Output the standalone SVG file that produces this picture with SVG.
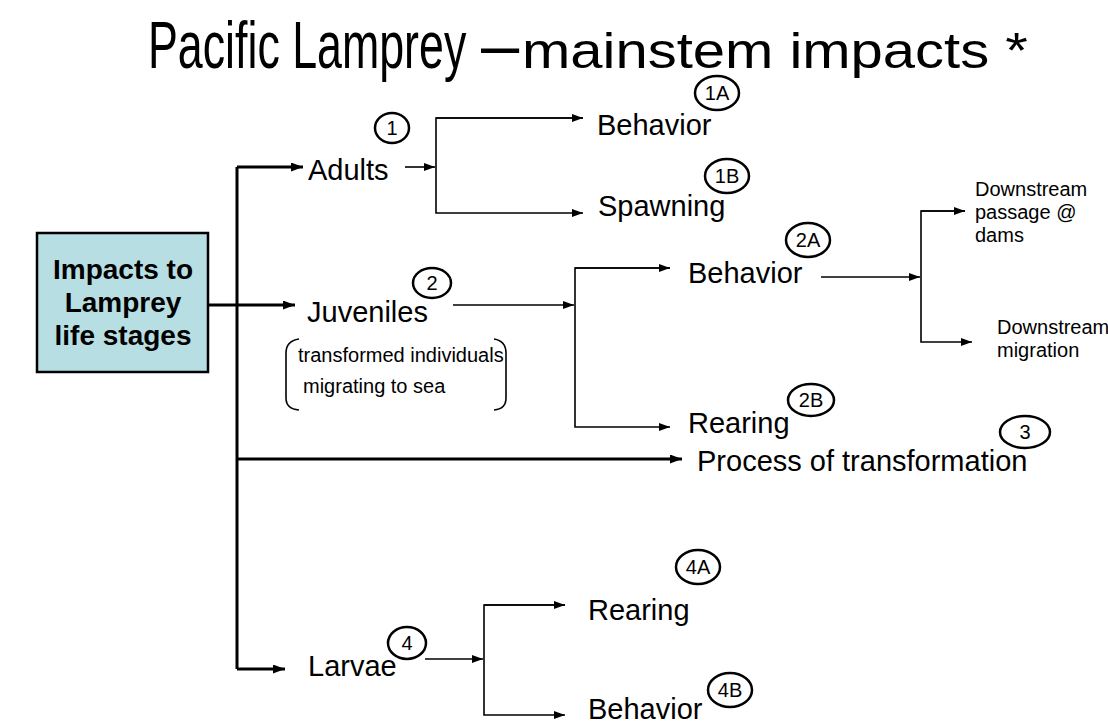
<svg xmlns="http://www.w3.org/2000/svg" width="1108" height="728" viewBox="0 0 1108 728">
<style>
text{font-family:"Liberation Sans",Arial,sans-serif;fill:#000}
.t{font-size:29px}
.s{font-size:20px}
.b{font-size:20px}
.c{font-size:20px;text-anchor:middle}
.thick{stroke:#000;stroke-width:3;fill:none}
.thin{stroke:#000;stroke-width:1.6;fill:none}
ellipse{fill:none;stroke:#000;stroke-width:2.5}
</style>
<defs>
<marker id="ah" markerUnits="userSpaceOnUse" markerWidth="11" markerHeight="8" refX="11" refY="4" orient="auto"><path d="M0,0 L11,4 L0,8 z" fill="#000"/></marker>
<marker id="ahb" markerUnits="userSpaceOnUse" markerWidth="12" markerHeight="9" refX="12" refY="4.5" orient="auto"><path d="M0,0 L12,4.5 L0,9 z" fill="#000"/></marker>
</defs>
<rect width="1108" height="728" fill="#fff"/>
<g id="title">
<text transform="translate(148,68) scale(0.678,1)" font-size="66">Pacific Lamprey</text>
<text transform="translate(481,68) scale(1.04,1)" font-size="66">–</text>
<text transform="translate(522,68) scale(1.16,1)" font-size="50">mainstem impacts *</text>
</g>

<g id="connectors">
<path class="thick" d="M208,305 H237"/>
<path class="thick" d="M237,167 V669"/>
<path class="thick" d="M237,167 H303" marker-end="url(#ahb)"/>
<path class="thick" d="M237,305 H295" marker-end="url(#ahb)"/>
<path class="thick" d="M237,459 H682" marker-end="url(#ahb)"/>
<path class="thick" d="M237,669 H285" marker-end="url(#ahb)"/>
<path class="thin" d="M405,167 H435" marker-end="url(#ah)"/>
<path class="thin" d="M583,118 H436 V213 H583" marker-end="url(#ah)"/>
<path class="thin" d="M436,118 H583" marker-end="url(#ah)"/>
<path class="thin" d="M453,305 H574" marker-end="url(#ah)"/>
<path class="thin" d="M670,268 H575 V427 H670" marker-end="url(#ah)"/>
<path class="thin" d="M575,268 H670" marker-end="url(#ah)"/>
<path class="thin" d="M821,277 H920" marker-end="url(#ah)"/>
<path class="thin" d="M965,211 H921 V342 H972" marker-end="url(#ah)"/>
<path class="thin" d="M921,211 H965" marker-end="url(#ah)"/>
<path class="thin" d="M425,659 H483" marker-end="url(#ah)"/>
<path class="thin" d="M565,605 H484 V715 H565" marker-end="url(#ah)"/>
<path class="thin" d="M484,605 H565" marker-end="url(#ah)"/>
</g>

<g id="root">
<rect x="37" y="233" width="171" height="139" fill="#B7DEE2" stroke="#000" stroke-width="2.5"/>
<text x="123" y="279" font-size="28" font-weight="bold" text-anchor="middle">Impacts to</text>
<text x="123" y="312" font-size="28" font-weight="bold" text-anchor="middle">Lamprey</text>
<text x="123" y="345" font-size="28" font-weight="bold" text-anchor="middle">life stages</text>
</g>

<g id="adults"><text class="t" x="308" y="180">Adults</text><ellipse cx="392" cy="128" rx="17" ry="15"/><text class="c" x="392" y="135">1</text></g>
<g id="adult-behavior"><text class="t" x="597" y="135">Behavior</text><ellipse cx="717" cy="93" rx="22" ry="17"/><text class="c" x="717" y="100">1A</text></g>
<g id="adult-spawning"><text class="t" x="598" y="216">Spawning</text><ellipse cx="727" cy="176" rx="22" ry="17"/><text class="c" x="727" y="183">1B</text></g>

<g id="juveniles"><text class="t" x="307" y="322">Juveniles</text><ellipse cx="432" cy="283" rx="19" ry="15"/><text class="c" x="432" y="290">2</text>
<path class="thin" stroke-width="2" d="M299,339 Q286,341 286,353 V398 Q286,409 299,410"/>
<path class="thin" stroke-width="2" d="M494,339 Q506,341 506,353 V398 Q506,409 494,410"/>
<text class="b" x="298" y="362">transformed individuals</text>
<text class="b" x="303" y="393">migrating to sea</text></g>
<g id="juv-behavior"><text class="t" x="688" y="283">Behavior</text><ellipse cx="808" cy="240" rx="22" ry="17"/><text class="c" x="808" y="247">2A</text></g>
<g id="juv-rearing"><text class="t" x="688" y="433">Rearing</text><ellipse cx="811" cy="400" rx="23" ry="16"/><text class="c" x="811" y="407">2B</text></g>
<g id="passage"><text class="s" x="975" y="196">Downstream</text><text class="s" x="975" y="219">passage @</text><text class="s" x="975" y="242">dams</text></g>
<g id="migration"><text class="s" x="997" y="334">Downstream</text><text class="s" x="997" y="357">migration</text></g>

<g id="transformation"><text class="t" x="697" y="471">Process of transformation</text><ellipse cx="1025" cy="432" rx="25" ry="16"/><text class="c" x="1025" y="439">3</text></g>

<g id="larvae"><text class="t" x="308" y="676">Larvae</text><ellipse cx="407" cy="643" rx="19" ry="16"/><text class="c" x="407" y="650">4</text></g>
<g id="larv-rearing"><text class="t" x="588" y="620">Rearing</text><ellipse cx="698" cy="567" rx="22" ry="17"/><text class="c" x="698" y="574">4A</text></g>
<g id="larv-behavior"><text class="t" x="588" y="719">Behavior</text><ellipse cx="730" cy="690" rx="22" ry="17"/><text class="c" x="730" y="697">4B</text></g>
</svg>
